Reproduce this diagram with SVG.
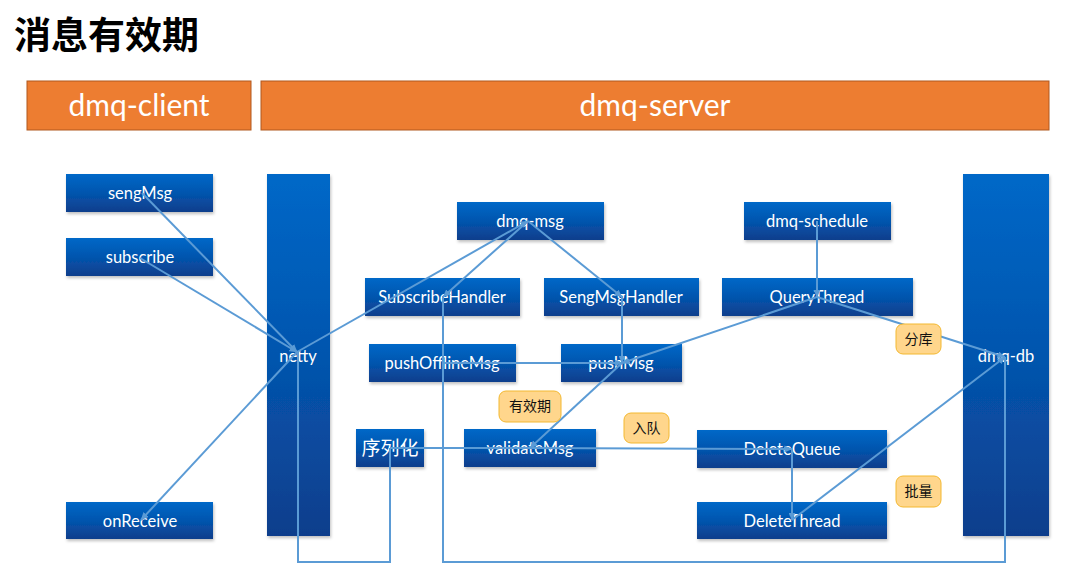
<svg xmlns="http://www.w3.org/2000/svg" width="1081" height="584" viewBox="0 0 1081 584">
<defs>
<linearGradient id="blue" x1="0" y1="0" x2="0" y2="1">
<stop offset="0" stop-color="#0068C8"/>
<stop offset="0.5" stop-color="#0455AE"/>
<stop offset="1" stop-color="#0D3E8C"/>
</linearGradient>
<filter id="sh" x="-10%" y="-10%" width="120%" height="130%">
<feDropShadow dx="1" dy="2" stdDeviation="1.5" flood-color="#000" flood-opacity="0.25"/>
</filter>
<marker id="arr" markerUnits="userSpaceOnUse" markerWidth="8" markerHeight="7" refX="7.5" refY="3.5" orient="auto">
<path d="M0,0 L8,3.5 L0,7 z" fill="#5B9BD5"/>
</marker>
</defs>
<style>
.hdr{fill:#ED7D31;stroke:#B0581F;stroke-width:1}
.hdrt{font-family:Lato,"Open Sans","Noto Sans",sans-serif;font-size:30px;fill:#fff;text-anchor:middle}
.node{fill:url(#blue);filter:url(#sh)}
.nt{font-family:Lato,"Noto Sans","Noto Sans CJK SC",sans-serif;font-size:16.5px;fill:#fff;text-anchor:middle}
.lbl{fill:#FFD68C;stroke:#F3B830;stroke-width:1}
.lt{font-family:"Noto Sans CJK SC",sans-serif;font-size:14px;fill:#111;text-anchor:middle}
.c{fill:none;stroke:#5B9BD5;stroke-width:2}
.a{marker-end:url(#arr)}
</style>
<rect width="1081" height="584" fill="#fff"/>
<text x="14" y="49" font-family="'Noto Sans CJK SC',sans-serif" font-weight="bold" font-size="37" fill="#000">消息有效期</text>

<g id="hdr-client"><rect class="hdr" x="27" y="81" width="224" height="49"/><text class="hdrt" x="139" y="116">dmq-client</text></g>
<g id="hdr-server"><rect class="hdr" x="261" y="81" width="788" height="49"/><text class="hdrt" x="655" y="116">dmq-server</text></g>

<g id="sengMsg"><rect class="node" x="66" y="174" width="147" height="38"/><text class="nt" x="140" y="199">sengMsg</text></g>
<g id="subscribe"><rect class="node" x="66" y="238" width="147" height="38"/><text class="nt" x="140" y="263">subscribe</text></g>
<g id="onReceive"><rect class="node" x="66" y="502" width="147" height="37"/><text class="nt" x="140" y="527">onReceive</text></g>
<g id="netty"><rect class="node" x="267" y="174" width="63" height="362"/><text class="nt" x="298" y="362">netty</text></g>
<g id="dmq-msg"><rect class="node" x="457" y="202" width="147" height="38"/><text class="nt" x="530" y="227">dmq-msg</text></g>
<g id="SubscribeHandler"><rect class="node" x="365" y="278" width="155" height="38"/><text class="nt" x="442" y="303">SubscribeHandler</text></g>
<g id="SengMsgHandler"><rect class="node" x="544" y="278" width="155" height="38"/><text class="nt" x="621" y="303">SengMsgHandler</text></g>
<g id="pushOfflineMsg"><rect class="node" x="369" y="344" width="147" height="38"/><text class="nt" x="442" y="369">pushOfflineMsg</text></g>
<g id="pushMsg"><rect class="node" x="561" y="344" width="121" height="38"/><text class="nt" x="621" y="369">pushMsg</text></g>
<g id="serialize"><rect class="node" x="356" y="429" width="68" height="38"/><text class="nt" x="390" y="455" style="font-size:19px;font-family:'Noto Sans CJK SC',sans-serif">序列化</text></g>
<g id="validateMsg"><rect class="node" x="464" y="429" width="132" height="38"/><text class="nt" x="530" y="454">validateMsg</text></g>
<g id="dmq-schedule"><rect class="node" x="744" y="202" width="147" height="38"/><text class="nt" x="817" y="227">dmq-schedule</text></g>
<g id="QueryThread"><rect class="node" x="722" y="278" width="191" height="38"/><text class="nt" x="817" y="303">QueryThread</text></g>
<g id="DeleteQueue"><rect class="node" x="697" y="430" width="190" height="38"/><text class="nt" x="792" y="455">DeleteQueue</text></g>
<g id="DeleteThread"><rect class="node" x="697" y="502" width="190" height="37"/><text class="nt" x="792" y="527">DeleteThread</text></g>
<g id="dmq-db"><rect class="node" x="963" y="174" width="86" height="362"/><text class="nt" x="1006" y="362">dmq-db</text></g>

<g id="connectors">
<line class="c a" x1="142" y1="193" x2="297" y2="352"/>
<line class="c a" x1="140" y1="258" x2="297" y2="352"/>
<line class="c a" x1="297" y1="352" x2="141" y2="520"/>
<line class="c a" x1="297" y1="352" x2="528" y2="221"/>
<line class="c a" x1="528" y1="221" x2="443" y2="297"/>
<line class="c a" x1="528" y1="221" x2="622" y2="297"/>
<line class="c a" x1="622" y1="297" x2="622" y2="363"/>
<line class="c a" x1="443" y1="363" x2="622" y2="363"/>
<line class="c a" x1="817" y1="297" x2="622" y2="363"/>
<line class="c a" x1="622" y1="363" x2="530" y2="448"/>
<line class="c" x1="390" y1="448" x2="530" y2="448"/>
<line class="c a" x1="530" y1="448" x2="792" y2="449"/>
<line class="c a" x1="792" y1="449" x2="792" y2="520"/>
<line class="c a" x1="792" y1="520" x2="1005" y2="357"/>
<line class="c a" x1="817" y1="297" x2="1005" y2="357"/>
<line class="c a" x1="817" y1="221" x2="817" y2="297"/>
<polyline class="c" points="298,352 298,562 390,562 390,448"/>
<polyline class="c" points="443,297 443,562 1005,562 1005,357"/>
</g>

<g id="lbl-fenku"><rect class="lbl" x="896" y="324" width="45" height="30" rx="7"/><text class="lt" x="918.5" y="344">分库</text></g>
<g id="lbl-youxiaoqi"><rect class="lbl" x="499" y="391" width="62" height="31" rx="7"/><text class="lt" x="530" y="411">有效期</text></g>
<g id="lbl-ruidui"><rect class="lbl" x="624" y="413" width="45" height="30" rx="7"/><text class="lt" x="646.5" y="433">入队</text></g>
<g id="lbl-piliang"><rect class="lbl" x="896" y="476" width="45" height="31" rx="7"/><text class="lt" x="918.5" y="496">批量</text></g>
</svg>
